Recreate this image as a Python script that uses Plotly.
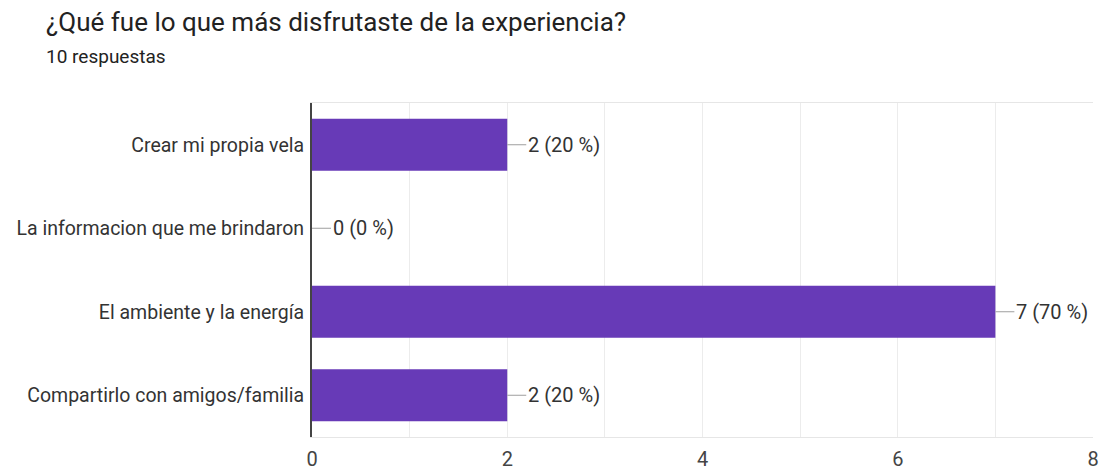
import plotly.graph_objects as go

categories = [
    "Crear mi propia vela",
    "La informacion que me brindaron",
    "El ambiente y la energía",
    "Compartirlo con amigos/familia",
]
counts = [2, 0, 7, 2]
total_responses = 10
x_tick_vals = [0, 1, 2, 3, 4, 5, 6, 7, 8]
x_tick_text = ["0", "", "2", "", "4", "", "6", "", "8"]

W, H = 1099, 470
L, R, T, B = 312, 6, 103, 33

fig = go.Figure(
    go.Bar(
        x=counts,
        y=categories,
        orientation="h",
        marker=dict(color="#673AB7", line=dict(width=0)),
        hoverinfo="skip",
    )
)

# value labels with a short leader line from the bar end
for cat, v in zip(categories, counts):
    pct = round(100 * v / total_responses)
    fig.add_annotation(
        x=v, y=cat, xref="x", yref="y",
        text=f"{v} ({pct} %)",
        showarrow=True, arrowhead=0, arrowwidth=1, arrowcolor="#9e9e9e",
        ax=19, ay=0, axref="pixel", ayref="pixel",
        xanchor="left", yanchor="middle",
        standoff=0, startstandoff=0,
        font=dict(family="Roboto", size=20, color="#333333"),
    )

plot_w = W - L - R
plot_h = H - T - B

fig.add_annotation(
    xref="paper", yref="paper",
    x=(44 - L) / plot_w, y=1 + (T - 22) / plot_h,
    text="¿Qué fue lo que más disfrutaste de la experiencia?",
    showarrow=False, xanchor="left", yanchor="middle",
    font=dict(family="Roboto", size=26, color="#222222"),
)
fig.add_annotation(
    xref="paper", yref="paper",
    x=(44 - L) / plot_w, y=1 + (T - 57) / plot_h,
    text=f"{total_responses} respuestas",
    showarrow=False, xanchor="left", yanchor="middle",
    font=dict(family="Roboto", size=19, color="#222222"),
)

fig.update_layout(
    width=W, height=H,
    margin=dict(l=L, r=R, t=T, b=B, pad=0, autoexpand=False),
    paper_bgcolor="white", plot_bgcolor="white",
    bargap=0.375,
    showlegend=False,
    font=dict(family="Roboto", size=20, color="#333333"),
)
# grid every unit, labels every 2
fig.update_xaxes(
    range=[0, 8],
    tickmode="array", tickvals=x_tick_vals, ticktext=x_tick_text,
    showgrid=True, gridcolor="#ececec", gridwidth=1,
    zeroline=False,
    showline=True, linecolor="#e6e6e6", linewidth=1, mirror=True,
    ticks="", tickfont=dict(size=20, color="#444444"),
    ticklabelstandoff=4,
    automargin=False,
    fixedrange=True,
)
fig.update_yaxes(
    autorange="reversed",
    showgrid=False,
    showline=True, linecolor="#444444", linewidth=2,
    ticks="", ticklabelstandoff=2,
    tickfont=dict(size=19.5, color="#333333"),
    automargin=False,
    fixedrange=True,
)

fig.write_html("out.html")
